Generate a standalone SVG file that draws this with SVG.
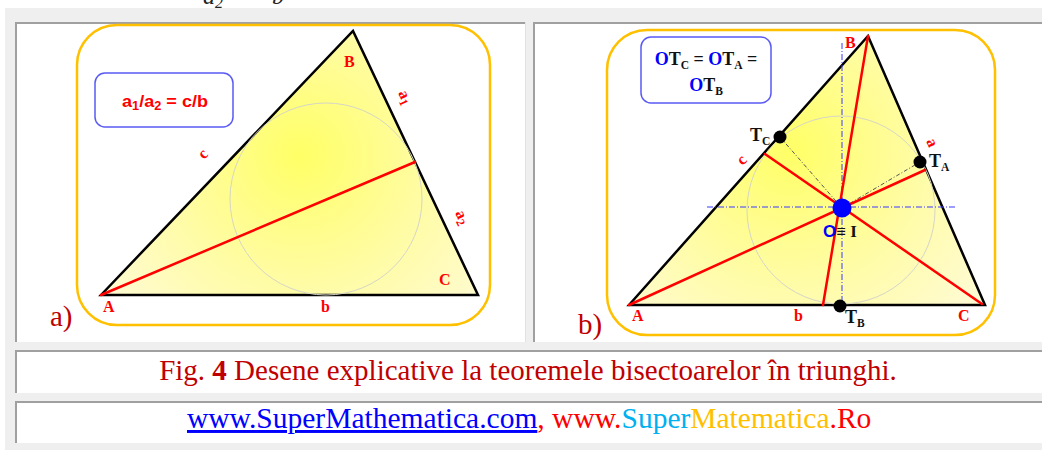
<svg xmlns="http://www.w3.org/2000/svg" width="1042" height="450" viewBox="0 0 1042 450">
<defs>
<radialGradient id="gL" gradientUnits="userSpaceOnUse" cx="300" cy="155" r="230">
<stop offset="0" stop-color="#ffff66"/>
<stop offset="0.55" stop-color="#fffca4"/>
<stop offset="1" stop-color="#fffbd0"/>
</radialGradient>
<radialGradient id="gR" gradientUnits="userSpaceOnUse" cx="790" cy="150" r="230">
<stop offset="0" stop-color="#ffff66"/>
<stop offset="0.55" stop-color="#fffca4"/>
<stop offset="1" stop-color="#fffbd0"/>
</radialGradient>
<style>
.frame{fill:none;stroke:#ffc000;stroke-width:2.5}
.fbox{fill:#fff;stroke:#5a5af5;stroke-width:1.5}
.tri{stroke:#000;stroke-width:2.5;stroke-linejoin:miter}
.inc{fill:none;stroke:#d6d6c8;stroke-width:1}
.bis{stroke:#ff0000;stroke-width:2.5;stroke-linecap:round}
.lbl{font-family:"Liberation Serif",serif;font-weight:bold;fill:#ff0000;font-size:16px}
.blk{font-family:"Liberation Serif",serif;font-weight:bold;fill:#111;font-size:18px}
.cap{font-family:"Liberation Serif",serif;font-size:29px}
.ax{stroke:#3a3aff;stroke-width:1;stroke-dasharray:6 2 1 2;fill:none}
.rad{stroke:#555;stroke-width:1;stroke-dasharray:4 2 1 2;fill:none}
.hl{stroke:#a0a0a0;stroke-width:2}
.ll{stroke:#e2e2e2;stroke-width:1}
</style>
</defs>
<rect x="0" y="0" width="1042" height="450" fill="#fff"/>
<rect x="5" y="8" width="1037" height="442" fill="#efefef"/>
<text x="203" y="4" font-family="Liberation Serif,serif" font-style="italic" font-size="24" fill="#222">a<tspan font-size="16" dy="4">2</tspan></text>
<text x="272" y="4" font-family="Liberation Serif,serif" font-style="italic" font-size="24" fill="#222">b</text>

<g id="cells">
<rect x="15" y="22" width="511" height="320" fill="#fff"/>
<line class="hl" x1="15" y1="23" x2="526" y2="23"/>
<line class="hl" x1="16" y1="22" x2="16" y2="342"/>
<line class="ll" x1="525.5" y1="22" x2="525.5" y2="342"/>
<rect x="533" y="22" width="509" height="320" fill="#fff"/>
<line class="hl" x1="533" y1="23" x2="1042" y2="23"/>
<line class="hl" x1="534" y1="22" x2="534" y2="342"/>
<rect x="15" y="350" width="1027" height="43" fill="#fff"/>
<line class="hl" x1="15" y1="351" x2="1042" y2="351"/>
<line class="hl" x1="16" y1="350" x2="16" y2="393"/>
<rect x="15" y="401" width="1027" height="42" fill="#fff"/>
<line class="hl" x1="15" y1="402" x2="1042" y2="402"/>
<line class="hl" x1="16" y1="401" x2="16" y2="443"/>
</g>

<g id="panel-a">
<rect class="frame" x="77" y="25" width="413" height="300" rx="40" ry="40"/>
<polygon class="tri" points="101,295 353,31 478,295" fill="url(#gL)"/>
<circle class="inc" cx="326" cy="199" r="96"/>
<text x="50" y="326" class="cap" fill="#c00000">a)</text>
<g id="formula-a">
<rect class="fbox" x="95" y="73" width="138" height="54" rx="10" ry="10"/>
<text x="122" y="107" font-family="Liberation Sans,Arial,sans-serif" font-weight="bold" font-size="17" fill="#ff0000" textLength="86" lengthAdjust="spacingAndGlyphs">a<tspan font-size="12" dy="3">1</tspan><tspan dy="-3">/a</tspan><tspan font-size="12" dy="3">2</tspan><tspan dy="-3"> = c/b</tspan></text>
</g>
<text class="lbl" x="344" y="67">B</text>
<text class="lbl" x="439" y="285">C</text>
<text class="lbl" x="103" y="312">A</text>
<text class="lbl" x="321" y="312">b</text>
<text class="lbl" transform="translate(204,160) rotate(-46)">c</text>
<text class="lbl" transform="translate(398,93) rotate(65)">a<tspan font-size="12" dy="3">1</tspan></text>
<text class="lbl" transform="translate(455,213) rotate(65)">a<tspan font-size="12" dy="3">2</tspan></text>
</g>

<g id="panel-b">
<rect class="frame" x="607" y="30" width="388" height="305" rx="40" ry="40"/>
<polygon class="tri" points="629,305 868,36 985,305" fill="url(#gR)"/>
<circle class="inc" cx="841" cy="210" r="94"/>
<text x="578" y="334" class="cap" fill="#c00000">b)</text>
<g id="formula-b">
<rect class="fbox" x="641" y="37" width="130" height="66" rx="10" ry="10"/>
<text x="706" y="65" text-anchor="middle" font-family="Liberation Serif,serif" font-weight="bold" font-size="18" fill="#111"><tspan fill="#0000ff">O</tspan>T<tspan font-size="11.5" dy="4">C</tspan><tspan dy="-4"> = </tspan><tspan fill="#0000ff">O</tspan>T<tspan font-size="11.5" dy="4">A</tspan><tspan dy="-4"> =</tspan></text>
<text x="706" y="91" text-anchor="middle" font-family="Liberation Serif,serif" font-weight="bold" font-size="18" fill="#111"><tspan fill="#0000ff">O</tspan>T<tspan font-size="11.5" dy="4">B</tspan></text>
</g>
</g>

<g id="connectors">
<line class="bis" x1="101" y1="295" x2="415" y2="162"/>
<line class="ax" x1="707" y1="207" x2="957" y2="207"/>
<line class="ax" x1="842" y1="43" x2="842" y2="305"/>
<line class="rad" x1="842" y1="208" x2="780" y2="137"/>
<line class="rad" x1="842" y1="208" x2="920" y2="162"/>
<line class="bis" x1="629" y1="305" x2="925" y2="170"/>
<line class="bis" x1="868" y1="36" x2="823" y2="305"/>
<line class="bis" x1="982" y1="304" x2="765" y2="154"/>
</g>

<g id="node-O">
<circle cx="842" cy="208" r="9.5" fill="#0000ff"/>
<text x="823" y="237" font-family="Liberation Sans,Arial,sans-serif" font-weight="bold" font-size="17" fill="#0000ff">O<tspan font-family="Liberation Serif,serif" fill="#111">≡ I</tspan></text>
</g>
<g id="node-TC">
<circle cx="780" cy="137" r="6.5" fill="#000"/>
<text class="blk" x="750" y="141">T<tspan font-size="11.5" dy="4">C</tspan></text>
</g>
<g id="node-TA">
<circle cx="920" cy="162" r="6.5" fill="#000"/>
<text class="blk" x="929" y="167">T<tspan font-size="11.5" dy="4">A</tspan></text>
</g>
<g id="node-TB">
<circle cx="840" cy="306" r="6.5" fill="#000"/>
<text class="blk" x="845" y="323">T<tspan font-size="11.5" dy="4">B</tspan></text>
</g>
<g id="labels-b">
<text class="lbl" x="845" y="48">B</text>
<text class="lbl" x="632" y="321">A</text>
<text class="lbl" x="794" y="321">b</text>
<text class="lbl" x="958" y="321">C</text>
<text class="lbl" transform="translate(743,166) rotate(-48)">c</text>
<text class="lbl" transform="translate(926,141) rotate(66)">a</text>
</g>

<g id="caption">
<text x="528" y="380" text-anchor="middle" class="cap" fill="#c00000">Fig. <tspan font-weight="bold">4</tspan> Desene explicative la teoremele bisectoarelor în triunghi.</text>
<text x="187" y="428" class="cap" font-size="29.5" style="font-size:29.5px" fill="#ff0000"><tspan fill="#0000ff" text-decoration="underline">www.SuperMathematica.com</tspan>, www.<tspan fill="#00b0f0">Super</tspan><tspan fill="#ffc000">Matematica</tspan>.Ro</text>
</g>
</svg>
